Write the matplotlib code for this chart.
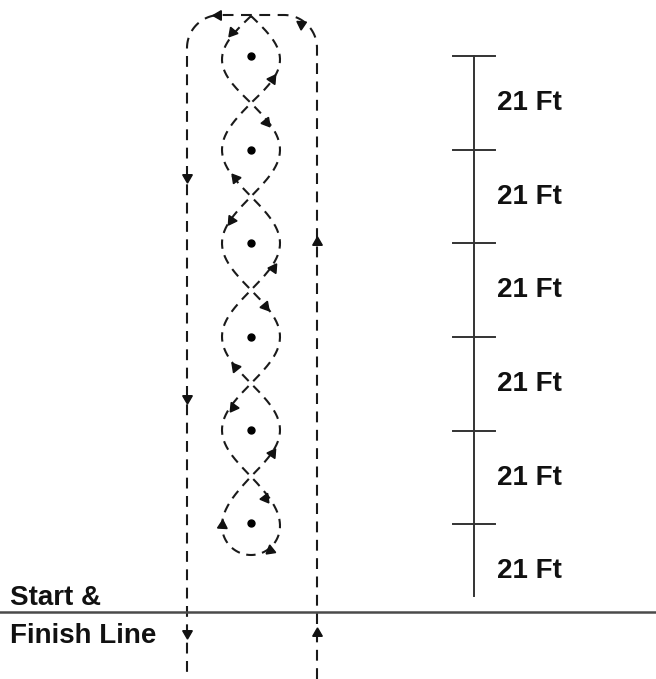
import numpy as np
import matplotlib.pyplot as plt

# pole positions (pixel space of the diagram, y grows downward)
pole_x = 251
pole_y = [56, 150, 243, 337, 430, 523]

# distance scale on the right
scale_x = 474
scale_ticks = [56, 150, 243, 337, 431, 524]
scale_end = 596
scale_labels = ["21 Ft", "21 Ft", "21 Ft", "21 Ft", "21 Ft", "21 Ft"]

# run lanes and start / finish line
lane_left_x = 187
lane_right_x = 317
lane_top_y = 15
finish_y = 612
weave_half = 29

# arrow heads: (x, y)
weave_arrows = [(232, 32), (272, 79), (266, 122), (235, 178), (231, 220), (273, 268),
                (265, 306), (235, 367), (233, 407), (272, 453), (265, 498), (222, 525),
                (270, 550)]
lane_arrows = [(317, 633), (317, 242), (301, 24), (218, 15), (187, 177), (187, 398),
               (187, 633)]

W, H = 656, 679
fig = plt.figure(figsize=(W / 100, H / 100), dpi=100)
ax = fig.add_axes([0, 0, 1, 1])
ax.set_xlim(0, W)
ax.set_ylim(H, 0)
ax.axis("off")

dash = (0, (5.2, 3.6))
lw = 1.5

# --- weave around the poles ---
nodes = [pole_y[0] - 40] + [(a + b) / 2 for a, b in zip(pole_y[:-1], pole_y[1:])]
cy = pole_y[-1] + 3
xs, ys = [], []
for k in range(len(nodes) - 1):
    t = np.linspace(0, 1, 60)
    s = -1 if k % 2 == 0 else 1
    xs.append(pole_x + s * weave_half * np.sin(np.pi * t))
    ys.append(nodes[k] + t * (nodes[k + 1] - nodes[k]))
t = np.linspace(0, 1, 40)
s = -1 if (len(nodes) - 1) % 2 == 0 else 1
xs.append(pole_x + s * weave_half * np.sin(np.pi / 2 * t))
ys.append(nodes[-1] + t * (cy - nodes[-1]))
c1x, c1y = np.concatenate(xs), np.concatenate(ys)
a = np.linspace(0, np.pi, 50) if s > 0 else np.linspace(np.pi, 0, 50)
bx = pole_x + weave_half * np.cos(a)
by = cy + weave_half * np.sin(a)
wx = np.concatenate([c1x, bx, (2 * pole_x - c1x)[::-1]])
wy = np.concatenate([c1y, by, c1y[::-1]])
ax.plot(wx, wy, color="#1a1a1a", lw=lw, ls=(0, (4.5, 3.2)))

# --- outer lane path: up the right, across the top, down the left ---
r = 33
a1 = np.linspace(0, -np.pi / 2, 30)
a2 = np.linspace(-np.pi / 2, -np.pi, 30)
ox = np.concatenate([[lane_right_x], lane_right_x - r + r * np.cos(a1),
                     lane_left_x + r + r * np.cos(a2), [lane_left_x]])
oy = np.concatenate([[H], lane_top_y + r + r * np.sin(a1),
                     lane_top_y + r + r * np.sin(a2), [H]])
ax.plot(ox, oy, color="#1a1a1a", lw=lw, ls=dash)


def draw_arrows(px, py, pts):
    for x, y in pts:
        i = int(np.argmin((px - x) ** 2 + (py - y) ** 2))
        i0, i1 = max(i - 2, 0), min(i + 2, len(px) - 1)
        dx = px[i1] - px[i0]
        dy = -(py[i1] - py[i0])  # flip to screen-up
        ang = np.degrees(np.arctan2(-dx, dy))
        ax.plot(x, y, marker=(3, 0, ang), ms=8, color="#111111", ls="none")


draw_arrows(wx, wy, weave_arrows)
# dense copy of the lane path for tangent lookup
oxd = np.concatenate([np.full(200, lane_right_x), ox[1:-1], np.full(200, lane_left_x)])
oyd = np.concatenate([np.linspace(H, oy[1], 200), oy[1:-1], np.linspace(oy[-2], H, 200)])
draw_arrows(oxd, oyd, lane_arrows)

# poles
ax.plot([pole_x] * len(pole_y), pole_y, "o", color="black", ms=5)

# start / finish line
ax.plot([0, W], [finish_y, finish_y], color="#4a4a4a", lw=1.8)
font = dict(family="Liberation Sans", weight="bold", color="#111111")
ax.text(10, 598, "Start &", fontsize=20, va="center", ha="left", **font)
ax.text(10, 636, "Finish Line", fontsize=20, va="center", ha="left", **font)

# distance scale
ax.plot([scale_x, scale_x], [scale_ticks[0], scale_end], color="#333333", lw=1.4)
for ty in scale_ticks:
    ax.plot([scale_x - 21, scale_x + 21], [ty, ty], color="#333333", lw=1.4)
for ty, lab in zip(scale_ticks, scale_labels):
    ax.text(497, ty + 47, lab, fontsize=20, va="center", ha="left", **font)

fig.savefig("out.png", dpi=100)
